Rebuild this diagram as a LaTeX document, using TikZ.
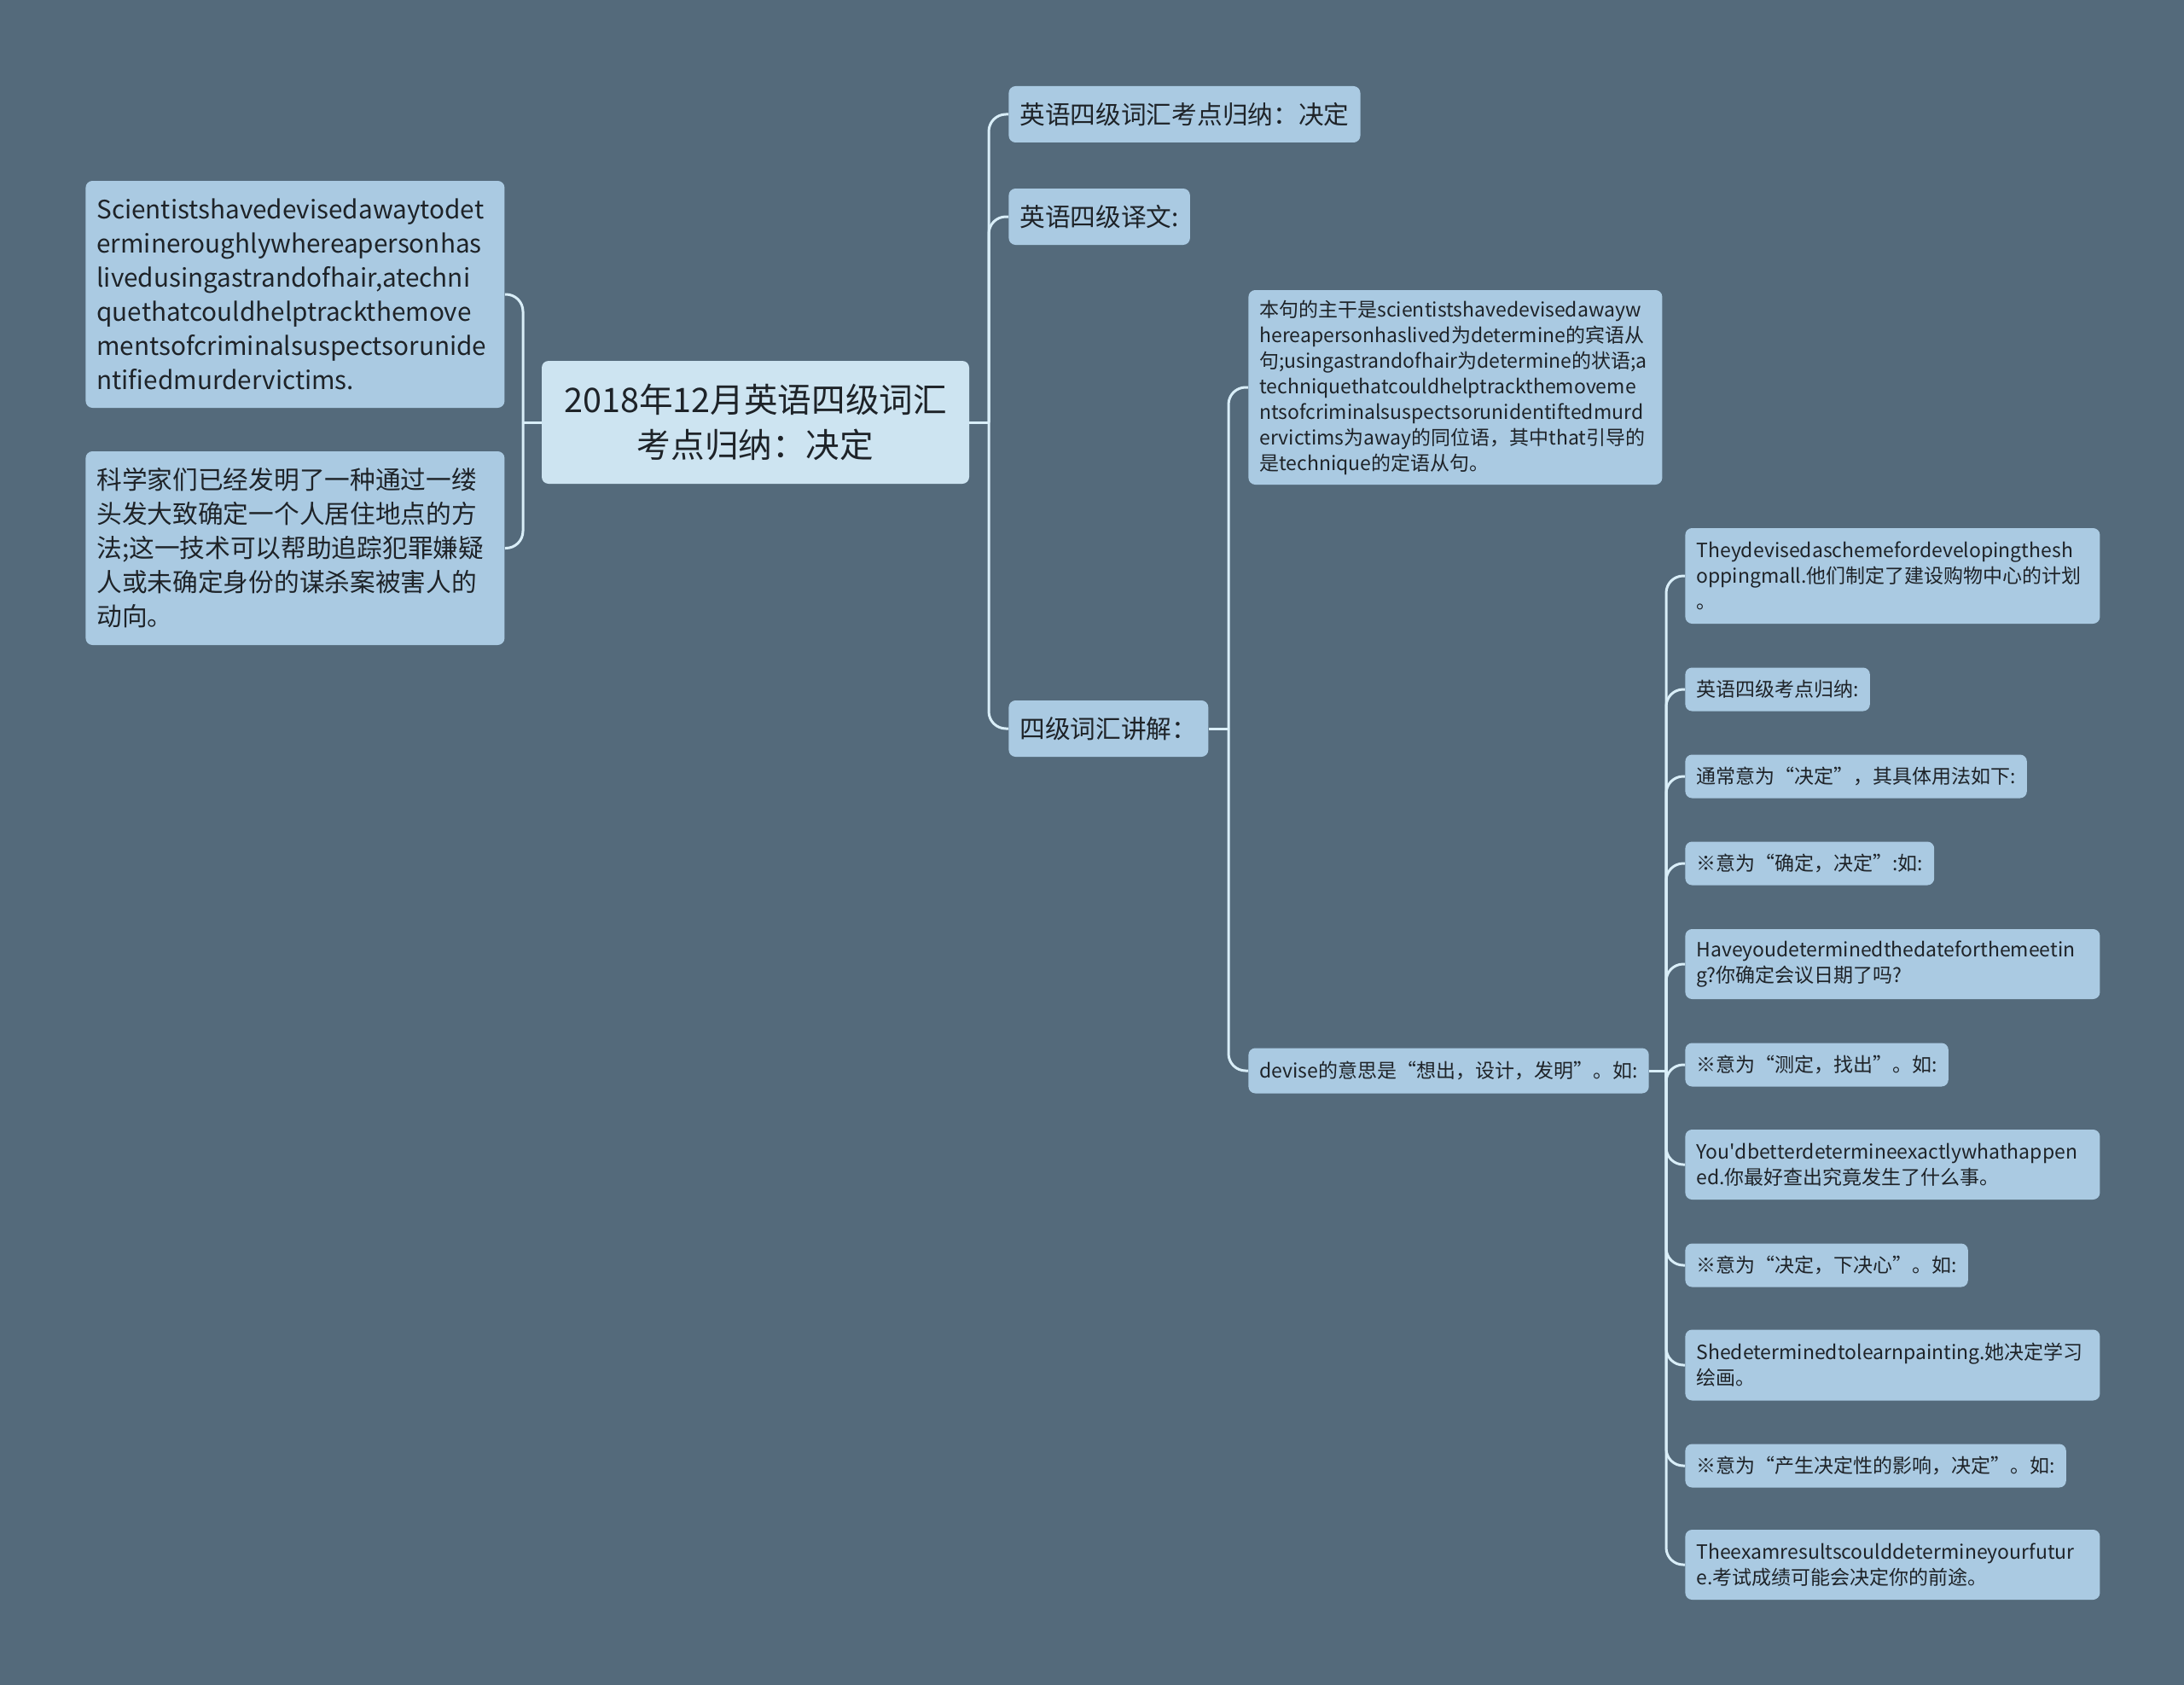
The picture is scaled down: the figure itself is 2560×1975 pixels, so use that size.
\documentclass[tikz,border=0pt]{standalone}
\usepackage{fontspec}
\setmainfont{Noto Sans CJK SC}
\newcommand\apos{\XeTeXglyph\XeTeXcharglyph"27\relax}

\definecolor{bgslate}{HTML}{546A7B}
\definecolor{boxblue}{HTML}{AACAE2}
\definecolor{rootblue}{HTML}{CDE4F1}
\definecolor{linkblue}{HTML}{D9EEF8}
\definecolor{inkdark}{HTML}{1E2328}

\tikzset{
  subbox/.style = {fill=boxblue, rounded corners=4pt, text=inkdark, inner xsep=6.5pt, inner ysep=3pt, anchor=west, align=left},
  mainbox/.style = {fill=rootblue, rounded corners=4pt, text=inkdark, align=center,
                    minimum width=250.5pt, minimum height=72pt, font=\fontsize{19.8pt}{26.5pt}\selectfont},
  bigfont/.style = {font=\fontsize{14.85pt}{20pt}\selectfont},
  smallfont/.style = {font=\fontsize{11.5pt}{15pt}\selectfont},
  link/.style = {draw=linkblue, line width=1.5pt, rounded corners=10pt},
}

\begin{document}
\begin{tikzpicture}[x=0.5pt, y=-0.5pt]

    \fill[bgslate] (0,0) rectangle (2560,1975);
    \useasboundingbox (0,0) rectangle (2560,1975);

    % centre
    \node[mainbox] (root) at (885.5,495) {2018年12月英语四级词汇\\考点归纳：决定};

    % left side
    \node[subbox, bigfont, text width=232.5pt, minimum height=133pt] (sci) at (100,345)
        {Scientistshavedevisedawaytodet\\ermineroughlywhereapersonhas\\livedusingastrandofhair,atechni\\quethatcouldhelptrackthemove\\mentsofcriminalsuspectsorunide\\ntifiedmurdervictims.};
    \node[subbox, bigfont, text width=232.5pt, minimum height=113.5pt] (scicn) at (100,642.5)
        {科学家们已经发明了一种通过一缕\\头发大致确定一个人居住地点的方\\法;这一技术可以帮助追踪犯罪嫌疑\\人或未确定身份的谋杀案被害人的\\动向。};

    % right side
    \node[subbox, bigfont, minimum height=33pt] (r1) at (1182,134) {英语四级词汇考点归纳：决定};
    \node[subbox, bigfont, minimum height=33pt] (r2) at (1182,254) {英语四级译文:};
    \node[subbox, bigfont, minimum height=33pt] (r3) at (1182,854) {四级词汇讲解：};

    \node[subbox, smallfont, text width=229.5pt, minimum height=114pt] (note) at (1463,454)
        {本句的主干是scientistshavedevisedawayw\\hereapersonhaslived为determine的宾语从\\句;usingastrandofhair为determine的状语;a\\techniquethatcouldhelptrackthemoveme\\ntsofcriminalsuspectsorunidentiftedmurd\\ervictims为away的同位语，其中that引导的\\是technique的定语从句。};
    \node[subbox, smallfont, minimum height=26.5pt] (devise) at (1463,1255) {devise的意思是“想出，设计，发明”。如:};

    % examples
    \node[subbox, smallfont, text width=230pt, minimum height=56pt] (ex1) at (1975,675)
        {Theydevisedaschemefordevelopingthesh\\oppingmall.他们制定了建设购物中心的计划\\。};
    \node[subbox, smallfont, minimum height=25.5pt] (ex2) at (1975,808) {英语四级考点归纳:};
    \node[subbox, smallfont, minimum height=25.5pt] (ex3) at (1975,910) {通常意为“决定”，其具体用法如下:};
    \node[subbox, smallfont, minimum height=25.5pt] (ex4) at (1975,1012) {※意为“确定，决定”:如:};
    \node[subbox, smallfont, text width=230pt, minimum height=41pt] (ex5) at (1975,1130)
        {Haveyoudeterminedthedateforthemeetin\\g?你确定会议日期了吗?};
    \node[subbox, smallfont, minimum height=25.5pt] (ex6) at (1975,1248) {※意为“测定，找出”。如:};
    \node[subbox, smallfont, text width=230pt, minimum height=41pt] (ex7) at (1975,1365)
        {You\apos dbetterdetermineexactlywhathappen\\ed.你最好查出究竟发生了什么事。};
    \node[subbox, smallfont, minimum height=25.5pt] (ex8) at (1975,1483) {※意为“决定，下决心”。如:};
    \node[subbox, smallfont, text width=230pt, minimum height=41.5pt] (ex9) at (1975,1600)
        {Shedeterminedtolearnpainting.她决定学习\\绘画。};
    \node[subbox, smallfont, minimum height=25.5pt] (ex10) at (1975,1718) {※意为“产生决定性的影响，决定”。如:};
    \node[subbox, smallfont, text width=230pt, minimum height=41pt] (ex11) at (1975,1834)
        {Theexamresultscoulddetermineyourfutur\\e.考试成绩可能会决定你的前途。};

    % connectors
    \coordinate (jl) at (613,495);
    \coordinate (jr) at (1159,495);
    \coordinate (js) at (1440,854);
    \coordinate (jd) at (1953,1255);

    \draw[link] (root.west) -- (jl);
    \draw[link] (jl) |- (sci.east);
    \draw[link] (jl) |- (scicn.east);

    \draw[link] (root.east) -- (jr);
    \foreach \n in {r1,r2,r3}
        \draw[link] (jr) |- (\n.west);

    \draw[link] (r3.east) -- (js);
    \draw[link] (js) |- (note.west);
    \draw[link] (js) |- (devise.west);

    \draw[link] (devise.east) -- (jd);
    \foreach \n in {ex1,ex2,ex3,ex4,ex5,ex6,ex7,ex8,ex9,ex10,ex11}
        \draw[link] (jd) |- (\n.west);

\end{tikzpicture}
\end{document}
